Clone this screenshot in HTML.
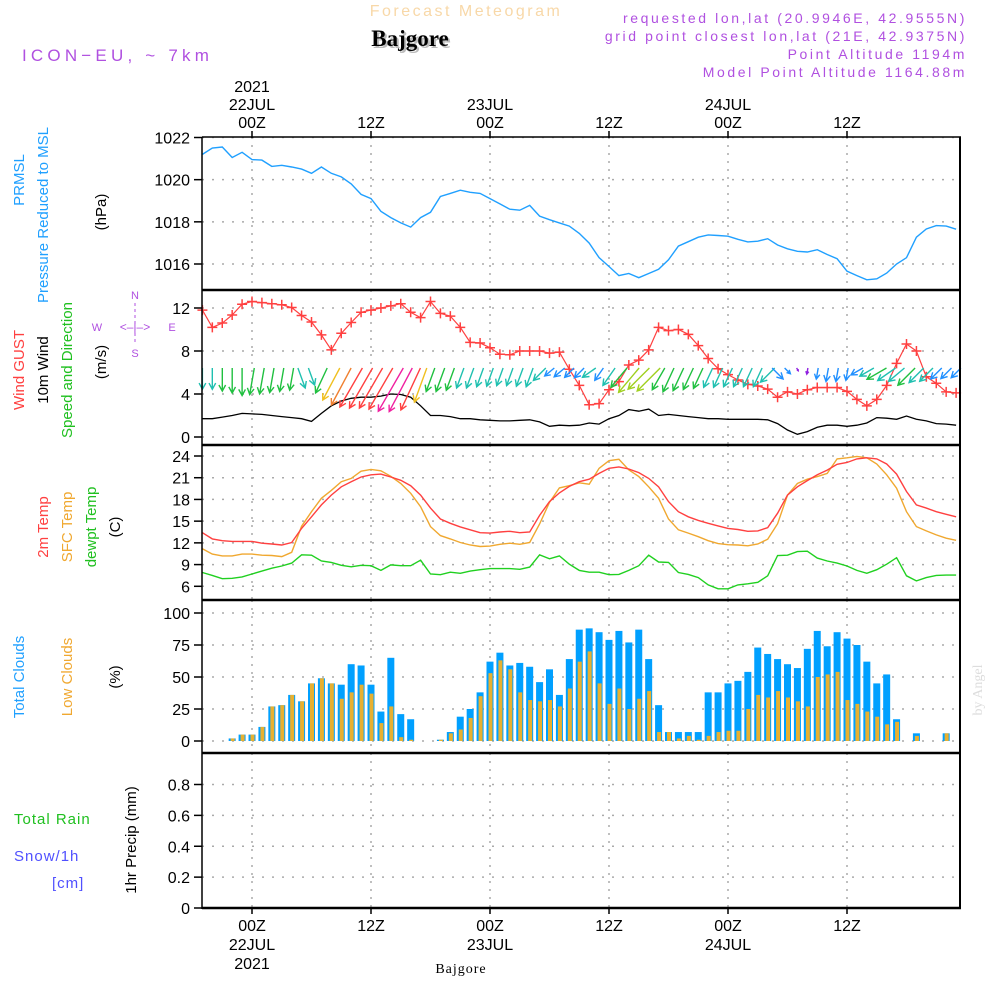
<!DOCTYPE html>
<html><head><meta charset="utf-8"><style>
html,body{margin:0;padding:0;background:#fff;}
svg{display:block;font-family:"Liberation Sans",sans-serif;}
</style></head><body>
<svg id="chart" width="1000" height="1000" viewBox="0 0 1000 1000" xmlns="http://www.w3.org/2000/svg">
<rect width="1000" height="1000" fill="#fff"/>
<text x="466" y="16" text-anchor="middle" font-size="16" fill="#f8d8a8" letter-spacing="2.5">Forecast Meteogram</text>
<text x="412" y="48" text-anchor="middle" font-size="23" font-weight="bold" font-family="Liberation Serif,serif" fill="#bbb">Bajgore</text>
<text x="410" y="46" text-anchor="middle" font-size="23" font-weight="bold" font-family="Liberation Serif,serif" fill="#000">Bajgore</text>
<g font-size="14" fill="#b050e0" text-anchor="end" letter-spacing="2.6">
<text x="967" y="23">requested lon,lat (20.9946E, 42.9555N)</text>
<text x="967" y="41">grid point closest lon,lat (21E, 42.9375N)</text>
<text x="967" y="59">Point Altitude 1194m</text>
<text x="967" y="77">Model Point Altitude 1164.88m</text>
</g>
<text x="22" y="61" font-size="17" fill="#b050e0" letter-spacing="4.2">ICON−EU, ~ 7km</text>
<g font-size="15">
<text transform="translate(24,180) rotate(-90)" text-anchor="middle" fill="#20a0ff">PRMSL</text>
<text transform="translate(48,215) rotate(-90)" text-anchor="middle" fill="#20a0ff">Pressure Reduced to MSL</text>
<text transform="translate(106,212) rotate(-90)" text-anchor="middle" fill="#000">(hPa)</text>
<text transform="translate(24,370) rotate(-90)" text-anchor="middle" fill="#ff4040">Wind GUST</text>
<text transform="translate(48,370) rotate(-90)" text-anchor="middle" fill="#000">10m Wind</text>
<text transform="translate(72,370) rotate(-90)" text-anchor="middle" fill="#20c020">Speed and Direction</text>
<text transform="translate(106,362) rotate(-90)" text-anchor="middle" fill="#000">(m/s)</text>
<text transform="translate(48,527) rotate(-90)" text-anchor="middle" fill="#ff4040">2m Temp</text>
<text transform="translate(72,527) rotate(-90)" text-anchor="middle" fill="#f0a830">SFC Temp</text>
<text transform="translate(96,527) rotate(-90)" text-anchor="middle" fill="#20c020">dewpt Temp</text>
<text transform="translate(120,527) rotate(-90)" text-anchor="middle" fill="#000">(C)</text>
<text transform="translate(24,677) rotate(-90)" text-anchor="middle" fill="#20a0ff">Total Clouds</text>
<text transform="translate(72,677) rotate(-90)" text-anchor="middle" fill="#f0a830">Low Clouds</text>
<text transform="translate(120,677) rotate(-90)" text-anchor="middle" fill="#000">(%)</text>
<text transform="translate(136,840) rotate(-90)" text-anchor="middle" fill="#000">1hr Precip (mm)</text>
<text x="14" y="824" fill="#20c020" letter-spacing="1">Total   Rain</text>
<text x="14" y="861" fill="#5050ff" letter-spacing="1">Snow/1h</text>
<text x="52" y="888" fill="#5050ff" letter-spacing="1">[cm]</text>
</g>
<g font-size="11" fill="#b050e0">
<text x="135" y="299" text-anchor="middle">N</text>
<text x="135" y="357" text-anchor="middle">S</text>
<text x="97" y="331" text-anchor="middle">W</text>
<text x="172" y="331" text-anchor="middle">E</text>
<text x="135" y="331" text-anchor="middle" font-size="12">&lt;–|–&gt;</text>
<line x1="135" y1="303" x2="135" y2="345" stroke="#b050e0" stroke-dasharray="3,3"/>
</g>
<text transform="translate(982,690) rotate(-90)" text-anchor="middle" font-size="14" font-family="Liberation Serif,serif" fill="#ddd">by Angel</text>
<text x="461" y="973" text-anchor="middle" font-size="14" font-family="Liberation Serif,serif" fill="#000" letter-spacing="1">Bajgore</text>
<g id="plot"></g>
</svg>
<script>
const startHour = -5;
const pressure = [1021.2,1021.5,1021.55,1021.05,1021.3,1020.95,1020.93,1020.63,1020.68,1020.6,1020.5,1020.3,1020.6,1020.3,1020.13,1019.8,1019.3,1019.1,1018.5,1018.2,1017.95,1017.75,1018.2,1018.45,1019.2,1019.35,1019.5,1019.4,1019.35,1019.1,1018.85,1018.6,1018.55,1018.78,1018.27,1018.1,1017.95,1017.8,1017.45,1016.99,1016.3,1015.88,1015.45,1015.55,1015.35,1015.55,1015.75,1016.2,1016.85,1017.06,1017.27,1017.38,1017.35,1017.32,1017.17,1017.05,1017.08,1017.2,1016.9,1016.72,1016.6,1016.57,1016.68,1016.45,1016.25,1015.66,1015.45,1015.25,1015.3,1015.57,1016.0,1016.3,1017.27,1017.66,1017.82,1017.8,1017.65];
const gust = [11.8,10.2,10.6,11.35,12.35,12.6,12.5,12.4,12.3,12.05,11.3,10.7,9.5,8.1,9.65,10.65,11.6,11.8,12.0,12.2,12.4,11.6,11.1,12.6,11.5,11.25,10.2,8.8,8.75,8.3,7.7,7.65,8.0,8.0,8.0,7.8,7.9,6.3,4.8,3.0,3.1,4.4,5.15,6.7,7.15,8.1,10.2,9.9,10.0,9.55,8.5,7.3,6.35,5.8,5.3,4.9,4.75,4.45,3.7,4.2,4.0,4.4,4.6,4.6,4.6,4.25,3.5,2.9,3.5,4.8,6.85,8.65,8.0,5.6,5.0,4.2,4.1];
const windSpeed = [1.7,1.7,1.85,2.0,2.2,2.15,2.1,2.0,1.9,1.8,1.7,1.45,2.2,2.9,3.35,3.6,3.7,3.7,3.8,4.0,3.95,3.7,2.9,2.0,2.0,1.9,1.7,1.7,1.6,1.55,1.5,1.5,1.55,1.6,1.4,1.0,1.1,1.05,1.1,1.3,1.2,1.7,2.0,2.55,2.4,2.6,2.0,2.1,2.0,1.9,1.8,1.7,1.7,1.65,1.65,1.65,1.65,1.6,1.25,0.65,0.25,0.5,0.9,1.1,1.1,1.0,1.1,1.3,1.8,1.75,1.65,1.95,1.65,1.5,1.25,1.2,1.1];
const windDir = [180,180,180,180,180,190,190,190,190,190,160,160,205,208,208,210,210,210,210,210,208,205,200,200,200,200,200,200,200,200,200,200,200,200,225,230,230,225,225,235,215,215,220,220,225,225,210,205,205,205,205,205,205,205,205,205,205,225,135,135,150,190,190,190,190,190,240,240,240,235,230,225,225,225,225,225,225];
const temp2m = [13.4,12.55,12.3,12.2,12.2,12.2,11.95,11.85,11.7,12.05,14.0,15.6,17.25,18.6,19.75,20.45,21.1,21.4,21.5,21.1,20.65,19.9,18.6,16.8,15.3,14.7,14.2,13.8,13.4,13.35,13.5,13.6,13.4,13.5,15.8,17.7,18.9,19.8,20.45,20.8,21.6,22.3,22.5,22.2,21.7,20.9,19.75,17.7,16.3,15.6,15.1,14.7,14.35,14.0,13.85,13.6,13.65,14.1,16.1,18.6,19.75,20.6,21.4,22.05,22.85,23.1,23.6,23.75,23.6,22.9,21.5,19.1,17.25,16.8,16.3,15.95,15.6];
const tempSfc = [11.2,10.45,10.2,10.2,10.45,10.45,10.3,10.25,10.1,10.7,14.3,16.3,18.15,19.25,20.45,20.9,21.9,22.15,21.95,21.2,20.2,18.85,17.0,14.25,13.0,12.55,12.05,11.7,11.5,11.55,11.8,11.95,11.8,12.05,14.6,17.6,19.6,19.9,20.3,20.1,22.3,23.35,23.55,22.1,21.15,19.75,18.15,15.3,13.8,13.35,12.85,12.3,11.9,11.75,11.7,11.6,11.85,12.5,14.65,18.6,20.2,20.8,21.15,21.6,23.6,23.75,23.95,23.75,22.9,21.4,19.55,16.3,14.25,13.65,13.1,12.65,12.35];
const dewpt = [7.9,7.5,7.05,7.1,7.3,7.7,8.1,8.5,8.8,9.2,10.35,10.3,9.5,9.3,8.9,8.7,8.9,8.85,8.2,8.95,8.85,8.85,9.6,7.7,7.6,7.95,7.8,8.1,8.3,8.45,8.45,8.45,8.35,8.65,10.35,9.8,10.2,9.05,8.2,7.95,7.95,7.6,7.65,8.2,8.85,10.3,9.35,9.3,7.9,7.65,7.2,6.2,5.65,5.65,6.2,6.35,6.55,7.45,10.25,10.3,10.8,10.85,9.9,9.5,9.2,8.8,8.2,7.8,8.3,9.05,9.95,7.45,6.75,7.2,7.5,7.55,7.55];
const totalClouds = [0,0,0,2,5,5,11,27,28,36,31,45,49,45,44,60,59,44,23,65,21,17,0,0,1,7,19,25,38,62,69,59,61,58,46,56,36,64,87,88,85,79,86,77,87,64,28,7,7,7,7,38,38,45,47,54,73,68,64,60,57,72,86,74,85,80,75,62,45,52,17,0,6,0,0,6,0];
const lowClouds = [0,0,0,2,5,5,11,27,28,36,31,45,49,45,33,38,44,37,14,27,3,1,0,0,1,6,9,18,35,53,63,56,38,32,31,32,27,41,62,70,45,29,41,25,33,39,7,7,2,4,1,4,7,8,8,25,36,34,39,34,31,27,50,52,54,32,29,23,19,13,15,0,4,0,0,6,0];
const precip = [];
const pTicks = [1016,1018,1020,1022];
const wTicks = [0,4,8,12];
const tTicks = [6,9,12,15,18,21,24];
const cTicks = [0,25,50,75,100];
const rTicks = [0,0.2,0.4,0.6,0.8];
const dayLabels = ['22JUL','23JUL','24JUL'];
const NS='http://www.w3.org/2000/svg';
const plot=document.getElementById('plot');
const X0=202,X1=960;
function xH(h){return 252+h*(238/24);}
function mk(tag,attrs,parent){const e=document.createElementNS(NS,tag);for(const k in attrs)e.setAttribute(k,attrs[k]);(parent||plot).appendChild(e);return e;}
const panels=[
 {top:137,bot:290,v0:1016,y0:264,v1:1022,y1:137.5,ticks:pTicks,fmt:v=>v,name:'pressure-panel'},
 {top:290,bot:445,v0:0,y0:437,v1:12,y1:308,ticks:wTicks,fmt:v=>v,name:'wind-panel'},
 {top:445,bot:600,v0:6,y0:586.3,v1:24,y1:456,ticks:tTicks,fmt:v=>v,name:'temperature-panel'},
 {top:600,bot:753,v0:0,y0:741,v1:100,y1:613,ticks:cTicks,fmt:v=>v,name:'clouds-panel'},
 {top:753,bot:908,v0:0,y0:908,v1:0.8,y1:784.5,ticks:rTicks,fmt:v=>v===0?'0':v.toFixed(1),name:'precip-panel'}
];
panels.forEach(p=>{p.y=v=>p.y0+(v-p.v0)*(p.y1-p.y0)/(p.v1-p.v0);});
panels.forEach(p=>{
 const g=mk('g',{});
 
 
 p.ticks.forEach(v=>{
  const y=p.y(v);
  const gl=mk('line',{x1:X0,x2:X1,y1:y,y2:y,stroke:'#aaa','stroke-width':1.5,'stroke-dasharray':'2,8'},g);
  
  
  mk('line',{x1:X0-8,x2:X0,y1:y,y2:y,stroke:'#000','stroke-width':1.5},g);
  const t=mk('text',{x:X0-12,y:y+6,'text-anchor':'end','font-size':16,fill:'#000'},g);
  t.textContent=p.fmt(v);
  
  
 });
 for(let h=0;h<=60;h+=12){
  const x=xH(h);
  const vl=mk('line',{x1:x,x2:x,y1:p.top,y2:p.bot,stroke:'#aaa','stroke-width':1.5,'stroke-dasharray':'2,6'},g);
  
  
 }
});
function line(arr,p,color,name,w){
 const pts=arr.map((v,i)=>xH(startHour+i).toFixed(1)+','+p.y(v).toFixed(1)).join(' ');
 const e=mk('polyline',{points:pts,fill:'none',stroke:color,'stroke-width':w||1.4});
 
 
 return e;
}
line(pressure,panels[0],'#20a0ff','pressure-line');
const cp=panels[3];
totalClouds.forEach((v,i)=>{
 const x=xH(startHour+i);
 if(v>0){
  const b=mk('rect',{x:x-3.5,y:cp.y(v),width:7,height:cp.y(0)-cp.y(v),fill:'#00a0ff'});
  
  
 }
 const lv=lowClouds[i];
 if(lv>0){
  const b2=mk('rect',{x:x-1.5,y:cp.y(lv),width:4,height:cp.y(0)-cp.y(lv),fill:'#e8b030'});
  
  
 }
});
const wp=panels[1];
line(windSpeed,wp,'#000','wind-speed-line',1.3);
line(gust,wp,'#ff4040','wind-gust-line',1.2);
gust.forEach((v,i)=>{
 const x=xH(startHour+i),y=wp.y(v);
 const m=mk('path',{d:`M${x-5},${y}H${x+5}M${x},${y-5}V${y+5}`,stroke:'#ff4040','stroke-width':1.5});
 
 
});
function wcol(s){
 if(s<0.6)return '#9020e0';if(s<1.3)return '#2090ff';if(s<1.8)return '#20c0b0';if(s<2.3)return '#20c040';
 if(s<2.7)return '#a0d020';if(s<3.1)return '#f0c020';if(s<3.5)return '#f08030';if(s<3.85)return '#ff4040';return '#f020a0';
}
windSpeed.forEach((s,i)=>{
 const x=xH(startHour+i),y=368;
 const L=12.5*s,a=windDir[i]*Math.PI/180;
 const dx=Math.sin(a)*L,dy=-Math.cos(a)*L;
 const tx=x-dx/2,ty=y;
 const hx=tx+dx,hy=ty+dy;
 const ang=Math.atan2(dy,dx);
 const hl=Math.min(7,L*0.5);
 const c=wcol(s);
 const d=`M${tx.toFixed(1)},${ty.toFixed(1)}L${hx.toFixed(1)},${hy.toFixed(1)}M${(hx-hl*Math.cos(ang-0.5)).toFixed(1)},${(hy-hl*Math.sin(ang-0.5)).toFixed(1)}L${hx.toFixed(1)},${hy.toFixed(1)}L${(hx-hl*Math.cos(ang+0.5)).toFixed(1)},${(hy-hl*Math.sin(ang+0.5)).toFixed(1)}`;
 const ar=mk('path',{d:d,fill:'none',stroke:c,'stroke-width':1.4});
 
 
});
const tp=panels[2];
line(dewpt,tp,'#20d020','dewpoint-line');
line(tempSfc,tp,'#f0a830','sfc-temp-line');
line(temp2m,tp,'#ff4040','temp-2m-line');
panels.forEach((p,i)=>{
 const f=mk('line',{x1:X0,x2:X1+1,y1:p.top,y2:p.top,stroke:'#000','stroke-width':i===0?1.5:2.5});
 
 
});
mk('line',{x1:X0,x2:X1+1,y1:908,y2:908,stroke:'#000','stroke-width':2.5});
mk('line',{x1:X0,x2:X0,y1:137,y2:909,stroke:'#000','stroke-width':1.5});
mk('line',{x1:X1,x2:X1,y1:137,y2:909,stroke:'#000','stroke-width':2});
for(let k=0;k<6;k++){
 const h=k*12,x=xH(h);
 mk('line',{x1:x,x2:x,y1:131,y2:138,stroke:'#000','stroke-width':1.5});
 mk('line',{x1:x,x2:x,y1:908,y2:914,stroke:'#000','stroke-width':1.5});
 const z=(h%24===0)?'00Z':'12Z';
 const t1=mk('text',{x:x,y:128,'text-anchor':'middle','font-size':16,fill:'#000'});
 t1.textContent=z;
 
 
 const t2=mk('text',{x:x,y:931,'text-anchor':'middle','font-size':16,fill:'#000'});
 t2.textContent=z;
 
 
 if(h%24===0){
  const d=dayLabels[h/24];
  const a=mk('text',{x:x,y:110,'text-anchor':'middle','font-size':16,fill:'#000'});a.textContent=d;
  
  
  const b=mk('text',{x:x,y:950,'text-anchor':'middle','font-size':16,fill:'#000'});b.textContent=d;
  
  
  if(h===0){
   const c=mk('text',{x:x,y:92,'text-anchor':'middle','font-size':16,fill:'#000'});c.textContent='2021';
   
   
   const e=mk('text',{x:x,y:969,'text-anchor':'middle','font-size':16,fill:'#000'});e.textContent='2021';
   
   
  }
 }
}
</script>
</body></html>
